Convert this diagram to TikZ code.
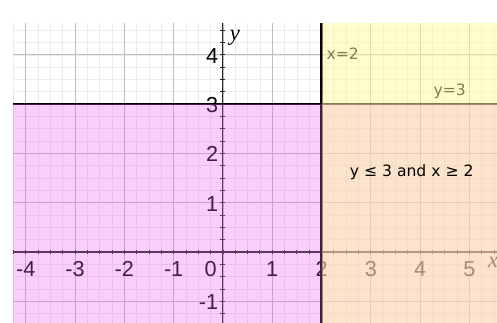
\documentclass[tikz,border=0pt]{standalone}
\usepackage{fontspec}
\setsansfont{Liberation Sans}
\newfontfamily\notefont{DejaVu Sans}
\newfontfamily\varfont{Liberation Serif}
\definecolor{regionpink}{rgb}{0.93,0.36,0.95}
\definecolor{regionyellow}{rgb}{1,0.98,0.62}

\begin{document}
\begin{tikzpicture}[
  x=1cm,y=1cm,
  font=\sffamily\fontsize{12.5}{14}\selectfont,
  minorgrid/.style={draw=black!8, line width=0.4pt},
  majorgrid/.style={draw=black!25, line width=0.5pt},
  axis/.style={draw=black!85, line width=0.6pt},
  boundary/.style={draw=black, line width=1.2pt},
  ticklabel/.style={inner sep=0pt, text=black},
  varlabel/.style={font=\varfont\itshape\fontsize{13}{14}\selectfont, inner sep=0pt},
  note/.style={font=\notefont\fontsize{9}{10}\selectfont, inner sep=0pt},
  pinkshade/.style={fill=regionpink, fill opacity=0.3},
  yellowshade/.style={fill=regionyellow, fill opacity=0.5}
]
  \useasboundingbox (-4.523,-1.44) rectangle (5.56,5.113);
  \coordinate (sw) at (-4.25,-1.44);
  \coordinate (ne) at (5.56,4.64);

  % grid
  \draw[minorgrid, step=0.25] (sw) grid (ne);
  \draw[majorgrid, step=1] (sw) grid (ne);

  % axes and ticks
  \draw[axis] (sw |- 0,0) -- (ne |- 0,0);
  \draw[axis] (sw -| 0,0) -- (ne -| 0,0);
  \foreach \t in {-17,...,22} {
    \draw[axis, line width=0.5pt] (\t/4,-0.05) -- (\t/4,0.05);
  }
  \foreach \t in {-5,...,18} {
    \draw[axis, line width=0.5pt] (-0.05,\t/4) -- (0.05,\t/4);
  }

  \foreach \k in {-4,-3,-2,-1,1,2,3,4,5} {
    \node[ticklabel] (xl\k) at (\k,-0.34) {\k};
  }
  \foreach \k in {-1,1,2,3,4} {
    \node[ticklabel, anchor=east] (yl\k) at (-0.09,\k-0.02) {\k};
  }
  \node[ticklabel] (orig) at (-0.25,-0.34) {0};
  \node[varlabel] (ylab) at (0.24,4.34) {y};
  \node[varlabel] (xlab) at (5.48,-0.21) {x};

  % boundary lines
  \draw[boundary] (sw |- 0,3) -- (ne |- 0,3);
  \draw[boundary] (sw -| 2,0) -- (ne -| 2,0);
  \node[note] (xeq) at (2.43,4.03) {x=2};
  \node[note] (yeq) at (4.60,3.25) {y=3};

  % shaded regions
  \fill[pinkshade] (sw) rectangle (ne |- 0,3);
  \fill[yellowshade] (sw -| 2,0) rectangle (ne);

  \node[note] (region) at (3.83,1.62) {y ≤ 3 and x ≥ 2};
\end{tikzpicture}
\end{document}
